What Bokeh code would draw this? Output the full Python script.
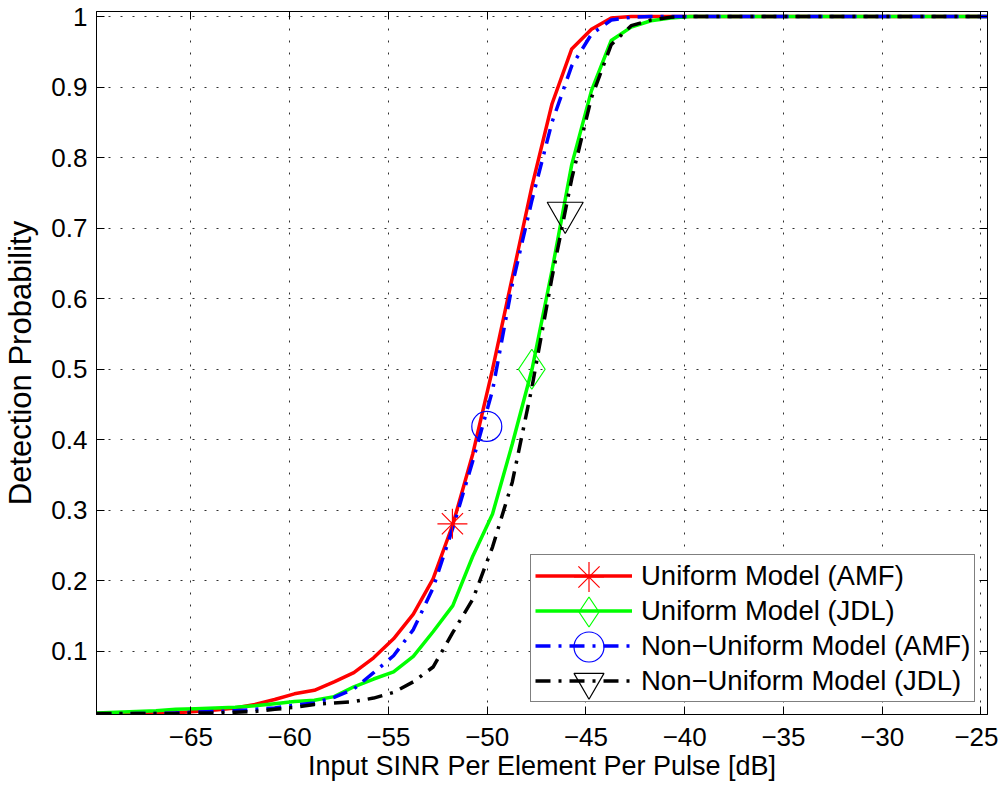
from bokeh.plotting import figure
from bokeh.models import (Range1d, FixedTicker, LinearAxis, Legend, LegendItem,
                          ColumnDataSource, CustomJSTickFormatter)
from bokeh.embed import file_html
from bokeh.resources import INLINE

# ---------------- data ----------------
snr_db = [-69.78, -68.78, -67.77, -66.77, -65.77, -64.77, -63.76, -62.76, -61.76, -60.76,
          -59.76, -58.75, -57.75, -56.75, -55.75, -54.74, -53.74, -52.74, -51.74, -50.73,
          -49.73, -48.73, -47.73, -46.72, -45.72, -44.72, -43.72, -42.71, -41.71, -40.71,
          -39.71, -38.70, -37.70, -36.70, -35.70, -34.69, -33.69, -32.69, -31.69, -30.68,
          -29.68, -28.68, -27.68, -26.67, -25.67, -24.67]

pd_uniform_amf = [0.010, 0.011, 0.011, 0.012, 0.013, 0.015, 0.017, 0.020, 0.025, 0.032,
                  0.040, 0.045, 0.057, 0.070, 0.091, 0.118, 0.153, 0.203, 0.280, 0.380,
                  0.500, 0.630, 0.760, 0.876, 0.954, 0.982, 0.998, 1.0, 1.0, 1.0,
                  1.0, 1.0, 1.0, 1.0, 1.0, 1.0, 1.0, 1.0, 1.0, 1.0,
                  1.0, 1.0, 1.0, 1.0, 1.0, 1.0]

pd_uniform_jdl = [0.013, 0.014, 0.015, 0.016, 0.018, 0.019, 0.020, 0.021, 0.023, 0.026,
                  0.029, 0.031, 0.036, 0.050, 0.061, 0.071, 0.093, 0.128, 0.165, 0.235,
                  0.295, 0.394, 0.500, 0.640, 0.790, 0.895, 0.966, 0.985, 0.994, 0.998,
                  1.0, 1.0, 1.0, 1.0, 1.0, 1.0, 1.0, 1.0, 1.0, 1.0,
                  1.0, 1.0, 1.0, 1.0, 1.0, 1.0]

pd_nonuniform_amf = [0.011, 0.011, 0.012, 0.012, 0.013, 0.014, 0.015, 0.016, 0.018, 0.020,
                     0.024, 0.027, 0.035, 0.047, 0.070, 0.094, 0.131, 0.190, 0.275, 0.370,
                     0.470, 0.620, 0.740, 0.850, 0.930, 0.975, 0.995, 0.999, 1.0, 1.0,
                     1.0, 1.0, 1.0, 1.0, 1.0, 1.0, 1.0, 1.0, 1.0, 1.0,
                     1.0, 1.0, 1.0, 1.0, 1.0, 1.0]

pd_nonuniform_jdl = [0.012, 0.012, 0.012, 0.012, 0.012, 0.013, 0.013, 0.014, 0.015, 0.018,
                     0.021, 0.025, 0.027, 0.029, 0.034, 0.042, 0.057, 0.078, 0.127, 0.174,
                     0.248, 0.340, 0.475, 0.630, 0.770, 0.885, 0.960, 0.987, 0.995, 0.999,
                     1.0, 1.0, 1.0, 1.0, 1.0, 1.0, 1.0, 1.0, 1.0, 1.0,
                     1.0, 1.0, 1.0, 1.0, 1.0, 1.0]

# single marker per curve (as in the reference)
marker_snr = [-51.76, -47.74, -50.02, -46.05]
marker_pd = [0.281, 0.500, 0.419, 0.722]

series_names = ["Uniform Model (AMF)", "Uniform Model (JDL)",
                "Non\u2212Uniform Model (AMF)", "Non\u2212Uniform Model (JDL)"]

x_ticks = [-65, -60, -55, -50, -45, -40, -35, -30, -25]
x_tick_labels = ["\u221265", "\u221260", "\u221255", "\u221250", "\u221245",
                 "\u221240", "\u221235", "\u221230", "\u221225"]
y_ticks = [0.1, 0.2, 0.3, 0.4, 0.5, 0.6, 0.7, 0.8, 0.9, 1]
y_tick_labels = ["0.1", "0.2", "0.3", "0.4", "0.5", "0.6", "0.7", "0.8", "0.9", "1"]

x_label = "Input SINR Per Element Per Pulse [dB]"
y_label = "Detection Probability"

# ---------------- figure ----------------
FONT = "Liberation Sans"

p = figure(width=998, height=790,
           x_range=Range1d(-69.78, -24.67), y_range=Range1d(0.0107, 1.0071),
           output_backend="svg", toolbar_location=None,
           min_border_left=96, min_border_right=11, min_border_top=11, min_border_bottom=76,
           x_axis_label=x_label, y_axis_label=y_label)
p.background_fill_color = "white"
p.border_fill_color = "white"
p.outline_line_color = "black"
p.outline_line_width = 1

xt = FixedTicker(ticks=x_ticks)
yt = FixedTicker(ticks=y_ticks)

for ax, t, labs in ((p.xaxis[0], xt, x_tick_labels), (p.yaxis[0], yt, y_tick_labels)):
    ax.ticker = t
    ax.major_label_overrides = dict(zip(t.ticks, labs))
    ax.major_tick_in = 8
    ax.major_tick_out = 0
    ax.minor_tick_in = 0
    ax.minor_tick_out = 0
    ax.axis_line_color = "black"
    ax.major_tick_line_color = "black"
    ax.major_label_text_font = FONT
    ax.major_label_text_font_size = "26px"
    ax.major_label_text_color = "black"
    ax.axis_label_text_font = FONT
    ax.axis_label_text_font_style = "normal"
    ax.axis_label_text_color = "black"

p.xaxis.major_label_standoff = 13
p.xaxis.axis_label_standoff = 2
p.xaxis.axis_label_text_font_size = "27px"
p.yaxis.major_label_standoff = 9
p.yaxis.axis_label_standoff = 10
p.yaxis.axis_label_text_font_size = "31px"

# box: ticks on top and right as well (no labels there)
blank = CustomJSTickFormatter(code="return ''")
for loc, t in (("above", xt), ("right", yt)):
    ax = LinearAxis(ticker=t, formatter=blank, major_label_standoff=0,
                    major_label_text_font_size="8px",
                    major_tick_in=8, major_tick_out=0, minor_tick_in=0, minor_tick_out=0,
                    axis_line_color="black", major_tick_line_color="black")
    p.add_layout(ax, loc)

for g, t in ((p.xgrid[0], xt), (p.ygrid[0], yt)):
    g.ticker = t
    g.grid_line_color = "#303030"
    g.grid_line_dash = "2 10"
    g.grid_line_width = 1

# ---------------- curves ----------------
src = ColumnDataSource(dict(x=snr_db, a=pd_uniform_amf, b=pd_uniform_jdl,
                            c=pd_nonuniform_amf, d=pd_nonuniform_jdl))
DASHDOT = "15 8 3 8"
r1 = p.line("x", "a", source=src, line_color="#ff0000", line_width=3.5)
r2 = p.line("x", "b", source=src, line_color="#00ff00", line_width=3.5)
r3 = p.line("x", "c", source=src, line_color="#0000ff", line_width=3.5, line_dash=DASHDOT)
r4 = p.line("x", "d", source=src, line_color="#000000", line_width=3.5, line_dash=DASHDOT)

m1 = p.scatter([marker_snr[0]], [marker_pd[0]], marker="asterisk", size=30,
               line_color="#ff0000", line_width=1.2, fill_color=None)
m2 = p.scatter([marker_snr[1]], [marker_pd[1]], marker="diamond", size=40,
               line_color="#00ff00", line_width=1.2, fill_color=None)
m3 = p.scatter([marker_snr[2]], [marker_pd[2]], marker="circle", size=30,
               line_color="#0000ff", line_width=1.2, fill_color=None)
m4 = p.scatter([marker_snr[3]], [marker_pd[3]], marker="inverted_triangle", size=36,
               line_color="#000000", line_width=1.2, fill_color=None)

# ---------------- legend ----------------
LEG_X, LEG_Y = 434, 12         # bottom-left of the legend box, px from frame corner
ROW, GAP, PAD, GW = 33, 2, 4, 97

leg_lines = Legend(items=[LegendItem(label=n, renderers=[r]) for n, r in
                          zip(series_names, (r1, r2, r3, r4))],
                   location=(LEG_X, LEG_Y), orientation="vertical",
                   border_line_color="black", border_line_width=1.5,
                   background_fill_color="white", background_fill_alpha=1.0,
                   padding=PAD, spacing=GAP, glyph_height=ROW, glyph_width=GW,
                   label_standoff=9, label_height=ROW,
                   label_text_font=FONT, label_text_font_size="27.5px",
                   label_text_color="black", margin=0)
p.add_layout(leg_lines, "center")

# large legend markers: one small legend per row, centred on the rows above
MK = 75
box_h = 4 * ROW + 3 * GAP + 2 * PAD
for i, m in enumerate((m1, m2, m3, m4)):
    row_centre = LEG_Y + box_h - PAD - ROW / 2 - i * (ROW + GAP)
    lg = Legend(items=[LegendItem(label="", renderers=[m])],
                location=(LEG_X + PAD + GW / 2 + 6 - MK / 2, row_centre - MK / 2),
                border_line_color="black", border_line_alpha=0.0,
                background_fill_alpha=0.0, padding=0, spacing=0,
                glyph_height=MK, glyph_width=MK, label_standoff=0, label_height=0,
                label_text_font=FONT, label_text_font_size="10px", margin=0)
    p.add_layout(lg, "center")

open("out.html", "w").write(file_html(p, INLINE))
